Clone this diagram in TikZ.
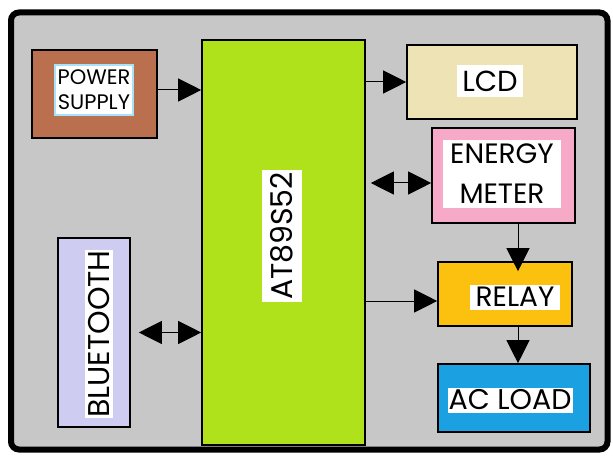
\documentclass[tikz,border=0pt]{standalone}
\usepackage{fontspec}
\setmainfont{Poppins}
\usetikzlibrary{arrows.meta}

\definecolor{psbrown}{RGB}{186,112,78}
\definecolor{mcugreen}{RGB}{176,226,27}
\definecolor{lcdbeige}{RGB}{238,227,180}
\definecolor{meterpink}{RGB}{246,170,200}
\definecolor{relayorange}{RGB}{252,192,14}
\definecolor{loadblue}{RGB}{27,160,226}
\definecolor{btlavender}{RGB}{206,204,240}
\definecolor{panelgray}{RGB}{199,199,199}

\begin{document}
\begin{tikzpicture}[
    x=1pt, y=-1pt,
    every node/.style={font=\fontsize{28}{30}\selectfont},
    blk/.style={draw=black, line width=1.6pt, inner sep=0pt},
    lbl/.style={fill=white, inner sep=0pt, align=center},
    arr/.style={line width=1pt, -{Triangle[length=23pt,width=23pt]}},
    darr/.style={line width=1pt, {Triangle[length=23pt,width=23pt]}-{Triangle[length=23pt,width=23pt]}}
]

\useasboundingbox (0,0) rectangle (613,457);

% =========================================================
% Panel
% =========================================================

\draw[line width=6pt, fill=panelgray, rounded corners=8pt] (11,12.5) rectangle (607.5,449.5);
\draw[line width=3pt] (10,16) -- (10,446);


% =========================================================
% Blocks
% =========================================================

\node[blk, fill=psbrown, minimum width=125, minimum height=88] (power) at (94.5,94) {};
\node[lbl, draw=cyan!35, line width=1.2pt, minimum width=78, minimum height=50,
      font=\fontsize{21}{25}\selectfont] (powerlbl) at (94,90) {POWER\\SUPPLY};

\node[blk, fill=mcugreen, minimum width=163, minimum height=405] (mcu) at (283.5,242.5) {};
\node[lbl, rotate=90, minimum width=132, minimum height=40,
      font=\fontsize{30}{30}\selectfont] (mculbl) at (282,236) {AT89S52};

\node[blk, fill=lcdbeige, minimum width=170, minimum height=74] (lcd) at (492,82) {};
\node[lbl, minimum width=66, minimum height=32,
      font=\fontsize{29}{30}\selectfont] (lcdlbl) at (490,81) {LCD};

\node[blk, fill=meterpink, minimum width=143, minimum height=95] (meter) at (503.5,175.5) {};
\node[lbl, minimum width=118, minimum height=68,
      font=\fontsize{28}{40}\selectfont] (meterlbl) at (502,174) {ENERGY\\METER};

\node[blk, fill=relayorange, minimum width=134, minimum height=64] (relay) at (505,294) {};
\node[lbl, minimum width=90, minimum height=25] (relaylbl) at (515,297) {RELAY};

\node[blk, fill=loadblue, minimum width=152, minimum height=68] (load) at (514,398) {};
\node[lbl, minimum width=125, minimum height=25,
      font=\fontsize{28.5}{30}\selectfont] (loadlbl) at (510,400) {AC LOAD};

\node[blk, fill=btlavender, minimum width=72, minimum height=189] (bt) at (94,332.5) {};
\node[lbl, rotate=90, minimum width=168, minimum height=28,
      font=\fontsize{30}{30}\selectfont] (btlbl) at (99,334) {BLUETOOTH};


% =========================================================
% Connections
% =========================================================

\draw[arr] (power.east |- 0,90) -- (mcu.west |- 0,90);
\draw[arr] (mcu.east |- lcd.west) -- (lcd.west);
\draw[darr] ([xshift=5pt,yshift=-7.5pt]mcu.east |- meter.west) -- ([yshift=-7.5pt]meter.west);
\draw[darr] ([xshift=8pt]bt.east) -- (mcu.west |- bt.east);
\draw[arr] (mcu.east |- 0,301) -- (relay.west |- 0,301);
\draw[arr] ([xshift=14.5pt]meter.south) -- ([xshift=14.5pt,yshift=-10pt]meter.south |- relay.north);
\draw[arr] ([xshift=13pt]relay.south) -- ([xshift=13pt]relay.south |- load.north);

\end{tikzpicture}
\end{document}
